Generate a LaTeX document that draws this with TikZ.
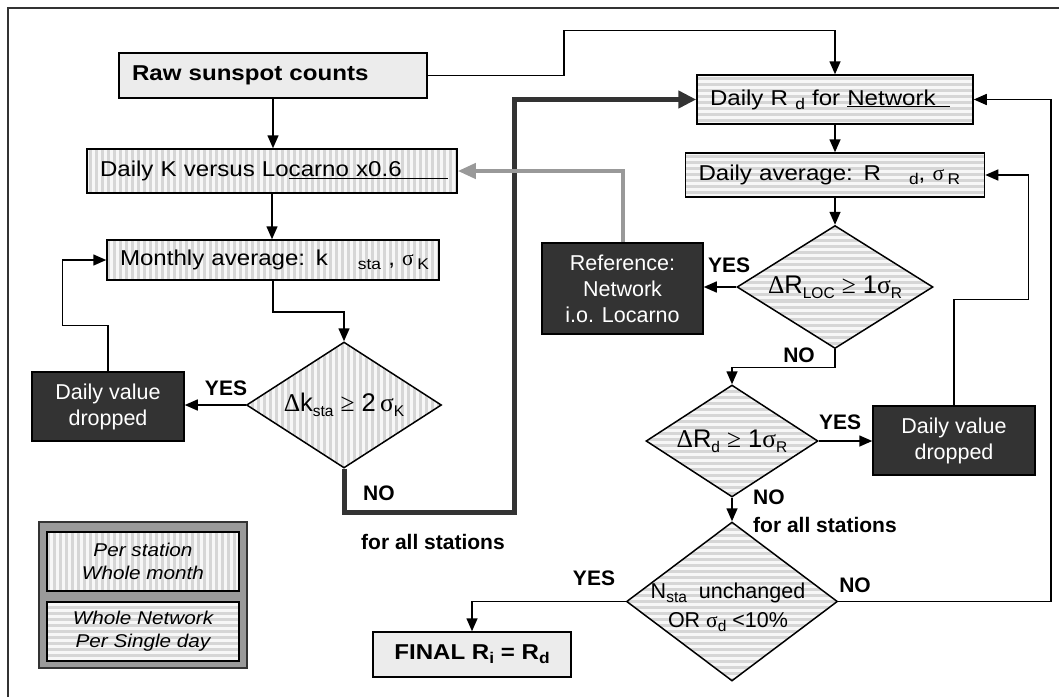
\documentclass[tikz,border=0pt]{standalone}
\usepackage{fontspec}
\setmainfont{Liberation Sans}
\newfontfamily\widesf{Liberation Sans}[FakeStretch=1.12]
\newfontfamily\symsf{Liberation Serif}
\usepackage{xcolor}
\usepackage{tikz}
\usetikzlibrary{calc,positioning,arrows.meta,shapes.geometric,patterns.meta}
\definecolor{ink}{HTML}{000000}
\definecolor{darkbox}{HTML}{333333}
\definecolor{lightbox}{HTML}{ECECEC}
\definecolor{stripebg}{HTML}{F7F7F7}
\definecolor{stripefg}{HTML}{D6D6D6}
\definecolor{greyflow}{HTML}{999999}
\definecolor{legendbg}{HTML}{9A9A9A}
\definecolor{framec}{HTML}{333333}
\newcommand{\BoxF}{\widesf\fontsize{21.5}{25}\selectfont}
\newcommand{\DarkF}{\fontsize{21.5}{26}\selectfont}
\newcommand{\LabF}{\bfseries\fontsize{21}{24}\selectfont}
\newcommand{\LegF}{\widesf\itshape\fontsize{18.5}{23}\selectfont}
\newcommand{\DecF}{\fontsize{25.5}{29}\selectfont}
\newcommand{\DecS}{\fontsize{21.5}{29}\selectfont}
\newcommand{\lowtxt}[1]{\raisebox{-0.35ex}{\fontsize{15.5}{17}\selectfont #1}}
\newcommand{\sig}{{\symsf σ}}
\newcommand{\dlt}{{\symsf Δ}}
\newcommand{\geqs}{{\symsf ≥}}
\tikzset{
  >={Triangle[length=13pt,width=11pt]},
  vstripe/.style={preaction={fill=stripebg}, pattern={Lines[angle=90,distance=6pt,line width=3pt]}, pattern color=stripefg},
  hstripe/.style={preaction={fill=stripebg}, pattern={Lines[angle=0,distance=6pt,line width=3pt]}, pattern color=stripefg},
  % boxes
  vbox/.style={vstripe, draw=ink, line width=1.5pt, inner xsep=13pt, inner ysep=0pt, font=\BoxF, align=left},
  hbox/.style={hstripe, draw=ink, line width=1.5pt, inner xsep=13pt, inner ysep=0pt, font=\BoxF, align=left},
  gbox/.style={fill=lightbox, draw=ink, line width=1.5pt, inner xsep=13pt, inner ysep=0pt, font=\BoxF, align=left},
  dbox/.style={fill=darkbox, draw=ink, line width=1.5pt, text=white, align=center, font=\DarkF, inner sep=0pt},
  legbox/.style={draw=ink, line width=2pt, inner sep=0pt, align=center, font=\LegF, minimum width=192, minimum height=59},
  % decisions
  vdec/.style={diamond, vstripe, draw=ink, line width=1.5pt, inner sep=0pt},
  hdec/.style={diamond, hstripe, draw=ink, line width=1.5pt, inner sep=0pt},
  dtxt/.style={font=\DecF, inner sep=0pt, align=center},
  % connectors
  flow/.style={->, line width=1.5pt, draw=ink},
  flowk/.style={-{Triangle[length=18pt,width=17pt]}, line width=5pt, draw=darkbox},
  flowg/.style={-{Triangle[length=18pt,width=15pt]}, line width=4pt, draw=greyflow},
  lab/.style={font=\LabF, inner sep=0pt},
}
\begin{document}
\begin{tikzpicture}[x=1pt,y=-1pt]
  \useasboundingbox (0,0) rectangle (1059,697);
  \draw[framec, line width=2pt] (8,697) -- (8,8) -- (1059,8);

  % per station, whole month
  \node[gbox, text width=282, minimum height=45] (raw) at (273,75.5) {\bfseries Raw sunspot counts};
  \node[vbox, text width=344, minimum height=44] (dailyK) at (272,171)
    {\mbox{Daily K versus Lo\underline{\makebox[159pt][l]{carno x0.6}}}};
  \node[vbox, text width=306, minimum height=40] (monthly) at (273,260)
    {\mbox{Monthly average: k\hspace{30pt}\lowtxt{sta} , \sig\,\lowtxt{K}}};
  \node[vdec, minimum width=195, minimum height=126] (d1) at (344,405) {};
  \node[dtxt] (d1t) at (d1) {\dlt k\lowtxt{sta} \geqs\ 2\,\sig\lowtxt{K}};
  \node[dbox, minimum width=152, minimum height=69] (drop1) at (108,406.5) {Daily value\\dropped};

  % whole network, single day
  \node[hbox, text width=250, minimum height=49] (dailyRd) at (835,99.5)
    {\mbox{Daily R \lowtxt{d} for \underline{\makebox[103pt][l]{Network}}}};
  \node[hbox, text width=273, minimum height=44] (dailyavg) at (835,175)
    {\mbox{Daily average: R\hspace{28pt}\lowtxt{d}, \sig\,\lowtxt{R}}};
  \node[hdec, minimum width=196, minimum height=123] (d2) at (835,287) {};
  \node[dtxt] (d2t) at (d2) {\dlt R\lowtxt{LOC} \geqs\ 1\sig\lowtxt{R}};
  \node[dbox, minimum width=161, minimum height=91] (ref) at (622.5,288.5) {Reference:\\Network\\i.o. Locarno};
  \node[hdec, minimum width=172, minimum height=112] (d3) at (732,441) {};
  \node[dtxt] (d3t) at (d3) {\dlt R\lowtxt{d} \geqs\ 1\sig\lowtxt{R}};
  \node[dbox, minimum width=162, minimum height=69] (drop2) at (954,440.5) {Daily value\\dropped};
  \node[hdec, minimum width=211, minimum height=159] (d4) at (732,601.5) {};
  \node[dtxt, font=\DecS] (d4t) at ($(d4)+(-4,6)$) {N\lowtxt{sta}\ \ unchanged\\OR \sig\lowtxt{d} <10\%};
  \node[gbox, minimum width=198, minimum height=45, align=center] (final) at (472,654.5)
    {\bfseries FINAL R\lowtxt{i} = R\lowtxt{d}};

  % legend
  \node[draw=framec, line width=1.5pt, fill=legendbg, minimum width=208, minimum height=146] (legend) at (143,595) {};
  \node[legbox, vstripe] (legv) at (143,561.5) {Per station\\Whole month};
  \node[legbox, hstripe] (legh) at (143,631.5) {Whole Network\\Per Single day};

  % connectors
  \draw[flow] (raw.south) -- (raw.south |- dailyK.north);
  \draw[flow] (dailyK.south) -- (dailyK.south |- monthly.north);
  \draw[flow] (monthly.south) -- ++(0,31) -| (d1.north);
  \draw[flow] (d1.west) -- (d1.west -| drop1.east);
  \draw[flow] (drop1.north) -- ++(0,-46) -| ($(monthly.west)+(-44,0)$) -- (monthly.west);
  \draw[flowk] (d1.south) -- ++(0,44) -| ($(dailyRd.west)+(-182,0)$) -- (dailyRd.west);
  \draw[flow] (raw.east) -- ++(136,0) |- ($(dailyRd.north)+(0,-44)$) -- (dailyRd.north);
  \draw[flow] (dailyRd.south) -- (dailyavg.north);
  \draw[flow] (dailyavg.south) -- (d2.north);
  \draw[flow] (d2.west) -- (d2.west -| ref.east);
  \draw[flowg] (ref.north) |- (dailyK.east);
  \draw[flow] (d2.south) -- ++(0,18) -| (d3.north);
  \draw[flow] (d3.east) -- (d3.east -| drop2.west);
  \draw[flow] (drop2.north) -- ++(0,-106) -| ($(dailyavg.east)+(43,0)$) -- (dailyavg.east);
  \draw[flow] (d3.south) -- (d4.north);
  \draw[flow] (d4.east) -| ($(dailyRd.east)+(77,0)$) -- (dailyRd.east);
  \draw[flow] (d4.west) -| (final.north);

  % labels
  \node[lab] (yes1) at (226,388) {YES};
  \node[lab, anchor=west] (no1) at (363,493) {NO};
  \node[lab, anchor=west] (all1) at (361,542) {for all stations};
  \node[lab] (yes2) at (729,265) {YES};
  \node[lab] (no2) at (799,355) {NO};
  \node[lab] (yes3) at (840,422) {YES};
  \node[lab, anchor=west] (no3) at (753,497) {NO};
  \node[lab, anchor=west] (all3) at (753,525) {for all stations};
  \node[lab] (yes4) at (594,578) {YES};
  \node[lab] (no4) at (855,585) {NO};
\end{tikzpicture}
\end{document}
